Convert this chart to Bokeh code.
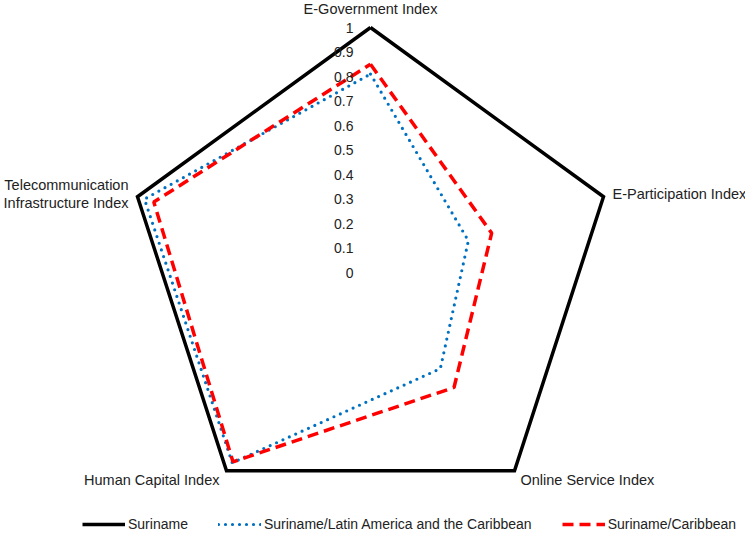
import numpy as np
from bokeh.plotting import figure
from bokeh.models import ColumnDataSource, Legend, LegendItem, Range1d
from bokeh.core.properties import value
from bokeh.embed import file_html
from bokeh.resources import INLINE

categories = ["E-Government Index", "E-Participation Index", "Online Service Index",
              "Human Capital Index", "Telecommunication\nInfrastructure Index"]
suriname = [1.0, 1.0, 1.0, 1.0, 1.0]
sur_lac = [0.81, 0.42, 0.485, 0.96, 0.97]
sur_carib = [0.85, 0.52, 0.58, 0.955, 0.93]
ticks = [0, 0.1, 0.2, 0.3, 0.4, 0.5, 0.6, 0.7, 0.8, 0.9, 1]
tick_labels = ["0", "0.1", "0.2", "0.3", "0.4", "0.5", "0.6", "0.7", "0.8", "0.9", "1"]

FONT = "Liberation Sans"
W, H = 745, 536
R = 245.0
cx, cy = 370.0, 272.0

n = len(categories)
angles = np.pi / 2 - 2 * np.pi * np.arange(n) / n


def closed_xy(vals):
    v = np.array(vals + vals[:1], dtype=float)
    a = np.concatenate([angles, angles[:1]])
    return v * np.cos(a), v * np.sin(a)


p = figure(width=W, height=H, output_backend="svg", toolbar_location=None,
           x_range=Range1d(-cx / R, (W - cx) / R), y_range=Range1d(-(H - cy) / R, cy / R),
           min_border=0, min_border_left=0, min_border_right=0, min_border_top=0, min_border_bottom=0)
p.axis.visible = False
p.grid.visible = False
p.outline_line_color = None
p.background_fill_color = "white"

x, y = closed_xy(suriname)
r1 = p.line(x, y, line_color="black", line_width=3.5, line_join="miter")
x, y = closed_xy(sur_lac)
r2 = p.line(x, y, line_color="#0070C0", line_width=3.2, line_dash="0 7", line_cap="round")
x, y = closed_xy(sur_carib)
r3 = p.line(x, y, line_color="#FF0000", line_width=3.5, line_dash="11 6")

# tick labels along vertical axis
p.text(x=[0] * len(ticks), y=ticks, text=tick_labels, text_align="right", text_baseline="middle",
       x_offset=-17, text_font=value(FONT), text_font_size="14px", text_color="#222222")

# category labels
lx = list(np.cos(angles))
ly = list(np.sin(angles))
aligns = ["center", "left", "left", "right", "right"]
xoffs = [0, 9, 6, -7, -9]
yoffs = [-19, -3, 9, 9, -3]
src = ColumnDataSource(dict(x=lx, y=ly, t=categories, al=aligns, xo=xoffs, yo=yoffs))
p.text(x="x", y="y", text="t", text_align="al", x_offset="xo", y_offset="yo",
       text_baseline="middle", text_font=value(FONT), text_font_size="14.5px",
       text_color="#222222", text_line_height=1.15, source=src)

legend = Legend(items=[LegendItem(label="Suriname", renderers=[r1]),
                       LegendItem(label="Suriname/Latin America and the Caribbean", renderers=[r2]),
                       LegendItem(label="Suriname/Caribbean", renderers=[r3])],
                orientation="horizontal", location=(82, 2), padding=0, margin=0,
                spacing=30, label_standoff=3, glyph_width=43, glyph_height=20,
                label_text_font=FONT, label_text_font_size="14px", label_text_color="#222222",
                border_line_color=None, background_fill_alpha=0)
p.add_layout(legend)

open("out.html", "w").write(file_html(p, INLINE))
